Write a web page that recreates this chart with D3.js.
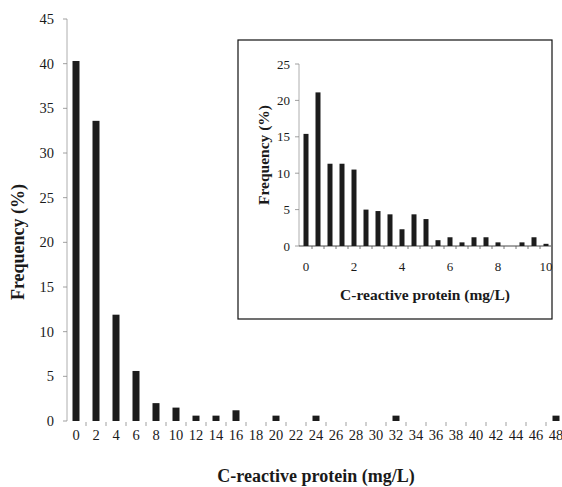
<!DOCTYPE html>
<html>
<head>
<meta charset="utf-8">
<script src="https://cdn.jsdelivr.net/npm/d3@7"></script>
<style>
  body { margin: 0; background: #fff; }
  svg { display: block; }
  text { font-family: "Liberation Serif", "Times New Roman", serif; fill: #1a1a1a; }
</style>
</head>
<body>
<svg></svg>
<script>
// main histogram: CRP 0..48 mg/L in steps of 2
const mainCats = d3.range(0, 50, 2);
const mainValues = [40.3, 33.6, 11.9, 5.6, 2.0, 1.5, 0.6, 0.6, 1.2, 0, 0.6, 0, 0.6,
                    0, 0, 0, 0.6, 0, 0, 0, 0, 0, 0, 0, 0.6];
const mainYTicks = [0, 5, 10, 15, 20, 25, 30, 35, 40, 45];

// inset: CRP 0..10 mg/L in steps of 0.5
const insetCats = d3.range(0, 10.5, 0.5);
const insetValues = [15.4, 21.1, 11.3, 11.3, 10.5, 5.0, 4.8, 4.35, 2.3, 4.35, 3.7,
                     0.8, 1.2, 0.5, 1.2, 1.2, 0.5, 0, 0.5, 1.2, 0.3];
const insetYTicks = [0, 5, 10, 15, 20, 25];
const insetXTicks = [0, 2, 4, 6, 8, 10];

const width = 562, height = 487;
const barColor = '#1c1c1c';

const svg = d3.select('svg').attr('width', width).attr('height', height);

// ---- main chart
const x = d3.scaleBand()
  .domain(mainCats)
  .range([66, 566])
  .paddingInner(0.65)
  .paddingOuter(0.325);

const y = d3.scaleLinear().domain([0, 45]).range([421, 19]);

const main = svg.append('g');

main.append('line')
  .attr('x1', 67).attr('x2', 67)
  .attr('y1', y(45)).attr('y2', y(0))
  .attr('stroke', '#999').attr('stroke-width', 0.8);

main.selectAll('.ytick')
  .data(mainYTicks)
  .enter().append('line')
  .attr('x1', 63).attr('x2', 67)
  .attr('y1', d => y(d)).attr('y2', d => y(d))
  .attr('stroke', '#888').attr('stroke-width', 0.8);

main.selectAll('.ylab')
  .data(mainYTicks)
  .enter().append('text')
  .attr('x', 54).attr('y', d => y(d))
  .attr('dy', '0.35em')
  .attr('text-anchor', 'end')
  .attr('font-size', 14.5)
  .text(d => d);

main.selectAll('.bar')
  .data(mainCats)
  .enter().append('rect')
  .attr('x', d => x(d))
  .attr('width', x.bandwidth())
  .attr('y', (d, i) => y(mainValues[i]))
  .attr('height', (d, i) => y(0) - y(mainValues[i]))
  .attr('fill', barColor);

// small ticks between categories
main.selectAll('.xtick')
  .data(mainCats.slice(1))
  .enter().append('line')
  .attr('x1', d => x(d) - x.step() * 0.325)
  .attr('x2', d => x(d) - x.step() * 0.325)
  .attr('y1', 422).attr('y2', 426)
  .attr('stroke', '#888').attr('stroke-width', 0.8);

main.selectAll('.xlab')
  .data(mainCats)
  .enter().append('text')
  .attr('x', d => x(d) + x.bandwidth() / 2)
  .attr('y', 440)
  .attr('text-anchor', 'middle')
  .attr('font-size', 14.5)
  .text(d => d);

main.append('text')
  .attr('x', 316).attr('y', 482)
  .attr('text-anchor', 'middle')
  .attr('font-size', 18).attr('font-weight', 'bold')
  .text('C-reactive protein (mg/L)');

main.append('text')
  .attr('transform', 'translate(24,242) rotate(-90)')
  .attr('text-anchor', 'middle')
  .attr('font-size', 18).attr('font-weight', 'bold')
  .text('Frequency (%)');

// ---- inset
const inset = svg.append('g');

inset.append('rect')
  .attr('x', 238).attr('y', 40)
  .attr('width', 314).attr('height', 279)
  .attr('fill', '#fff')
  .attr('stroke', '#111').attr('stroke-width', 1.2);

const ix = d3.scaleLinear().domain([0, 10]).range([306, 546]);
const iy = d3.scaleLinear().domain([0, 25]).range([246, 64]);
const ibw = 5;

inset.append('line')
  .attr('x1', 299).attr('x2', 299)
  .attr('y1', iy(25)).attr('y2', iy(0))
  .attr('stroke', '#999').attr('stroke-width', 0.8);

inset.append('line')
  .attr('x1', 299).attr('x2', 551)
  .attr('y1', iy(0)).attr('y2', iy(0))
  .attr('stroke', '#333').attr('stroke-width', 0.9);

inset.selectAll('.ytick')
  .data(insetYTicks)
  .enter().append('line')
  .attr('x1', 295).attr('x2', 299)
  .attr('y1', d => iy(d)).attr('y2', d => iy(d))
  .attr('stroke', '#888').attr('stroke-width', 0.8);

inset.selectAll('.ylab')
  .data(insetYTicks)
  .enter().append('text')
  .attr('x', 290).attr('y', d => iy(d))
  .attr('dy', '0.35em')
  .attr('text-anchor', 'end')
  .attr('font-size', 13)
  .text(d => d);

inset.selectAll('.bar')
  .data(insetCats)
  .enter().append('rect')
  .attr('x', d => ix(d) - ibw / 2)
  .attr('width', ibw)
  .attr('y', (d, i) => iy(insetValues[i]))
  .attr('height', (d, i) => iy(0) - iy(insetValues[i]))
  .attr('fill', barColor);

inset.selectAll('.xtick')
  .data(insetCats.slice(0, -1))
  .enter().append('line')
  .attr('x1', d => ix(d + 0.25)).attr('x2', d => ix(d + 0.25))
  .attr('y1', iy(0)).attr('y2', iy(0) + 3)
  .attr('stroke', '#555').attr('stroke-width', 0.8);

inset.selectAll('.xlab')
  .data(insetXTicks)
  .enter().append('text')
  .attr('x', d => ix(d)).attr('y', 271)
  .attr('text-anchor', 'middle')
  .attr('font-size', 13)
  .text(d => d);

inset.append('text')
  .attr('x', 425).attr('y', 300)
  .attr('text-anchor', 'middle')
  .attr('font-size', 15.5).attr('font-weight', 'bold')
  .text('C-reactive protein (mg/L)');

inset.append('text')
  .attr('transform', 'translate(269,155) rotate(-90)')
  .attr('text-anchor', 'middle')
  .attr('font-size', 15.5).attr('font-weight', 'bold')
  .text('Frequency (%)');
</script>
</body>
</html>
